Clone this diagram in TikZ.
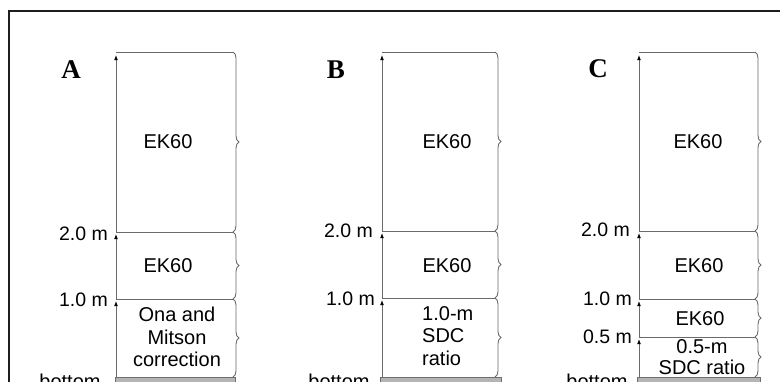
\documentclass[tikz,border=0pt]{standalone}
\usepackage{fontspec}
\setmainfont{Liberation Sans}
\newfontfamily\serifbold{Liberation Serif}
\usetikzlibrary{arrows.meta,decorations.pathreplacing}
\definecolor{linegray}{HTML}{6A6A6A}
\definecolor{bargray}{HTML}{B4B4B4}
\definecolor{barline}{HTML}{6E6E6E}
\definecolor{framec}{HTML}{1E1E1E}
\begin{document}
\begin{tikzpicture}[x=1pt,y=-1pt,
  txt/.style={inner sep=0pt, font=\fontsize{20}{22.5}\selectfont},
  lvl/.style={inner sep=0pt, anchor=base east, font=\fontsize{19.5}{21}\selectfont},
  letter/.style={inner sep=0pt, anchor=base, font=\serifbold\bfseries\fontsize{27}{29}\selectfont},
  axisseg/.style={draw=linegray, line width=0.9pt, -{Latex[length=5pt,width=3.8pt,black]}},
  sepline/.style={draw=linegray, line width=0.9pt},
  brc/.style={draw=linegray, line width=0.9pt, decorate, decoration={brace, amplitude=6pt}},
  seabed/.style={fill=bargray, draw=barline, line width=0.8pt},
  frameline/.style={draw=framec, line width=2.4pt}
]
\useasboundingbox (0,0) rectangle (780,381);
% frame
\draw[frameline] (9,395) -- (9,11) -- (790,11);

% ================= Panel A =================
\coordinate (A0) at (116,377);
\coordinate (A1) at (116,299);
\coordinate (A2) at (116,232);
\coordinate (A3) at (116,52);
\coordinate (Ab0) at (233,377);
\coordinate (Ab1) at (233,299);
\coordinate (Ab2) at (233,232);
\coordinate (Ab3) at (233,52);
\node[letter] (Alab) at (71,78) {A};
\draw[axisseg] (A0) -- ([yshift=-2pt]A1);
\draw[axisseg] (A1) -- ([yshift=-2pt]A2);
\draw[axisseg] (A2) -- ([yshift=-3pt]A3);
\draw[sepline] (A3) -- (Ab3);
\draw[sepline] (A2) -- (Ab2);
\draw[sepline] (A1) -- (Ab1);
\draw[brc] (Ab3) -- (Ab2);
\draw[brc] (Ab2) -- (Ab1);
\draw[brc] (Ab1) -- (Ab0);
\draw[seabed] (115,377) rectangle (235,400);
\node[txt, anchor=base] (Aek1) at (168,148) {EK60};
\node[txt, anchor=base] (Aek2) at (168,272) {EK60};
\node[txt, align=center, anchor=center] (Aona) at (177,337) {Ona and\\Mitson\\correction};
\node[lvl] (Al2) at (108,240) {2.0 m};
\node[lvl] (Al1) at (108,306) {1.0 m};
\node[txt, anchor=base] (Abot) at (70,388) {bottom};

% ================= Panel B =================
\coordinate (B0) at (382,377);
\coordinate (B1) at (382,298);
\coordinate (B2) at (382,231);
\coordinate (B3) at (382,52);
\coordinate (Bb0) at (495,377);
\coordinate (Bb1) at (495,298);
\coordinate (Bb2) at (495,231);
\coordinate (Bb3) at (495,52);
\node[letter] (Blab) at (336,78) {B};
\draw[axisseg] (B0) -- ([yshift=-2pt]B1);
\draw[axisseg] (B1) -- ([yshift=-2pt]B2);
\draw[axisseg] (B2) -- ([yshift=-3pt]B3);
\draw[sepline] (B3) -- (Bb3);
\draw[sepline] (B2) -- (Bb2);
\draw[sepline] (B1) -- (Bb1);
\draw[brc] (Bb3) -- (Bb2);
\draw[brc] (Bb2) -- (Bb1);
\draw[brc] (Bb1) -- (Bb0);
\draw[seabed] (380,377) rectangle (501,400);
\node[txt, anchor=base] (Bek1) at (447,148) {EK60};
\node[txt, anchor=base] (Bek2) at (447,272) {EK60};
\node[txt, align=left, anchor=west] (Bsdc) at (422,336) {1.0-m\\SDC\\ratio};
\node[lvl] (Bl2) at (373,237) {2.0 m};
\node[lvl] (Bl1) at (375,305) {1.0 m};
\node[txt, anchor=base] (Bbot) at (339,388) {bottom};

% ================= Panel C =================
\coordinate (C0) at (639,377);
\coordinate (C05) at (639,337);
\coordinate (C1) at (639,299);
\coordinate (C2) at (639,231);
\coordinate (C3) at (639,52);
\coordinate (Cb0) at (755,377);
\coordinate (Cb05) at (755,337);
\coordinate (Cb1) at (755,299);
\coordinate (Cb2) at (755,231);
\coordinate (Cb3) at (755,52);
\node[letter] (Clab) at (598,77) {C};
\draw[axisseg] (C0) -- ([yshift=-2pt]C05);
\draw[axisseg] (C05) -- ([yshift=-2pt]C1);
\draw[axisseg] (C1) -- ([yshift=-2pt]C2);
\draw[axisseg] (C2) -- ([yshift=-3pt]C3);
\draw[sepline] (C3) -- (Cb3);
\draw[sepline] (C2) -- (Cb2);
\draw[sepline] (C1) -- (Cb1);
\draw[sepline] (C05) -- (Cb05);
\draw[brc] (Cb3) -- (Cb2);
\draw[brc] (Cb2) -- (Cb1);
\draw[brc] (Cb1) -- (Cb05);
\draw[brc] (Cb05) -- (Cb0);
\draw[seabed] (637,377) rectangle (760,400);
\node[txt, anchor=base] (Cek1) at (698,148) {EK60};
\node[txt, anchor=base] (Cek2) at (699,272) {EK60};
\node[txt, anchor=base] (Cek3) at (700,325) {EK60};
\node[txt, align=center, anchor=center, font=\fontsize{20}{21}\selectfont] (Csdc) at (702,357) {0.5-m\\SDC ratio};
\node[lvl] (Cl2) at (630,236) {2.0 m};
\node[lvl] (Cl1) at (632,305) {1.0 m};
\node[lvl] (Cl05) at (632,343) {0.5 m};
\node[txt, anchor=base] (Cbot) at (597,388) {bottom};
\end{tikzpicture}
\end{document}
